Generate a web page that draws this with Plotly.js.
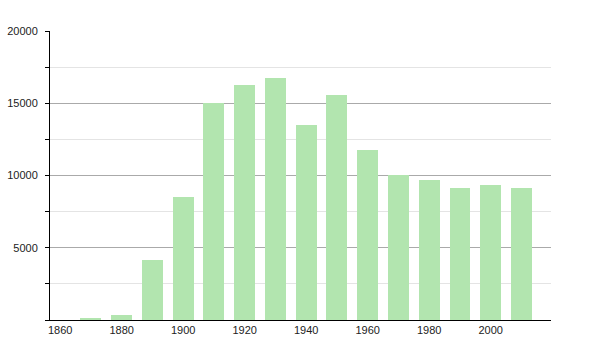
<!DOCTYPE html>
<html>
<head>
<meta charset="utf-8">
<script src="https://cdn.plot.ly/plotly-3.0.1.min.js"></script>
<style>html,body{margin:0;padding:0;background:#fff;}#chart{width:600px;height:350px;}</style>
</head>
<body>
<div id="chart"></div>
<script>
const years = [1870,1880,1890,1900,1910,1920,1930,1940,1950,1960,1970,1980,1990,2000,2010];
const population = [140,350,4150,8510,14990,16260,16730,13490,15570,11760,10030,9690,9135,9340,9135];
const xTicks = [1860,1880,1900,1920,1940,1960,1980,2000];
const yTicks = [5000,10000,15000,20000];

Plotly.newPlot('chart', [{
  type: 'bar',
  x: years,
  y: population,
  width: 6.8,
  marker: {color: '#b2e5af', line: {width: 0}},
  hoverinfo: 'x+y'
}], {
  width: 600, height: 350,
  margin: {l: 50, r: 49, t: 31, b: 30},
  paper_bgcolor: '#fff', plot_bgcolor: '#fff',
  font: {family: 'Liberation Sans, Arial, sans-serif', size: 11, color: '#222'},
  showlegend: false,
  bargap: 0,
  xaxis: {
    range: [1856.7, 2019.6],
    tickvals: xTicks,
    ticktext: xTicks.map(String),
    ticks: '',
    showgrid: false,
    zeroline: false,
    showline: true, linecolor: '#000', linewidth: 1,
    ticklabelstandoff: 0
  },
  yaxis: {
    range: [0, 20000],
    tickvals: yTicks,
    ticktext: yTicks.map(String),
    ticks: 'outside', ticklen: 4, tickcolor: '#000',
    ticklabelstandoff: 5,
    showgrid: true, gridcolor: '#aaaaaa', gridwidth: 1,
    zeroline: false,
    showline: true, linecolor: '#000', linewidth: 1,
    minor: {dtick: 2500, tick0: 0, showgrid: true, gridcolor: '#e4e4e4', ticks: 'outside', ticklen: 4, tickcolor: '#000'}
  }
}, {displayModeBar: false, staticPlot: true});
</script>
</body>
</html>
